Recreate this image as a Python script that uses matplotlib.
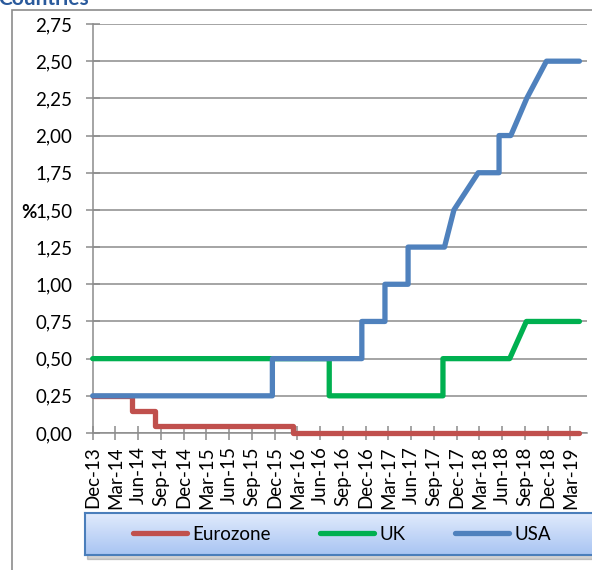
import matplotlib
matplotlib.use('Agg')
import matplotlib.pyplot as plt
import numpy as np
from matplotlib.patches import Rectangle

plt.rcParams['font.family'] = ['Lato', 'DejaVu Sans']

# x positions are months counted from Dec-13
tick_months = list(range(0, 64, 3))
tick_labels = ['Dec-13', 'Mar-14', 'Jun-14', 'Sep-14', 'Dec-14', 'Mar-15', 'Jun-15',
               'Sep-15', 'Dec-15', 'Mar-16', 'Jun-16', 'Sep-16', 'Dec-16', 'Mar-17',
               'Jun-17', 'Sep-17', 'Dec-17', 'Mar-18', 'Jun-18', 'Sep-18', 'Dec-18',
               'Mar-19']

# policy rate path, %
euro_x = [0, 5.15, 5.15, 8.2, 8.2, 26.45, 26.45, 64.2]
euro_y = [0.25, 0.25, 0.15, 0.15, 0.05, 0.05, 0.00, 0.00]

uk_x = [0, 31.2, 31.2, 46.2, 46.2, 55.0, 57.2, 64.2]
uk_y = [0.50, 0.50, 0.25, 0.25, 0.50, 0.50, 0.75, 0.75]

usa_x = [0, 23.7, 23.7, 35.5, 35.5, 38.55, 38.55, 41.6, 41.6, 46.4, 47.65,
         50.85, 53.6, 53.6, 55.15, 57.25, 59.85, 64.2]
usa_y = [0.25, 0.25, 0.50, 0.50, 0.75, 0.75, 1.00, 1.00, 1.25, 1.25, 1.50,
         1.75, 1.75, 2.00, 2.00, 2.25, 2.50, 2.50]

series = [('Eurozone', euro_x, euro_y, '#c0504d'),
          ('UK', uk_x, uk_y, '#00b050'),
          ('USA', usa_x, usa_y, '#4f81bd')]

W, H = 592, 570
fig = plt.figure(figsize=(W / 100, H / 100), dpi=100)

# outer chart frame (runs off the right and bottom edges)
fig.patches.append(Rectangle((12 / W, -0.1), 1.2, (H - 10) / H + 0.1,
                             transform=fig.transFigure, fill=False,
                             edgecolor='#8c8c8c', linewidth=1.2))
fig.text(-2 / W, 1 - 5 / H, 'Countries', fontsize=15, fontweight='bold',
         color='#2a5a9c', ha='left', va='baseline')

ax = fig.add_axes([92.7 / W, (H - 433) / H, (587 - 92.7) / W, 409 / H])
grey = '#8c8c8c'
for name, xs, ys, col in series:
    ax.plot(xs, ys, color=col, linewidth=3.8, label=name, zorder=3,
            clip_on=False, solid_capstyle='round', solid_joinstyle='round')

ax.set_xlim(0, 65.2)
ax.set_ylim(0, 2.75)
yt = np.arange(0, 2.76, 0.25)
ax.set_yticks(yt)
ax.set_yticklabels([f'{v:.2f}'.replace('.', ',') for v in yt])
ax.set_xticks(tick_months)
ax.set_xticklabels(tick_labels, rotation=90)
ax.yaxis.grid(True, color=grey, linewidth=1.1)
ax.set_axisbelow(True)
for s in ['top', 'right']:
    ax.spines[s].set_visible(False)
for s in ['left', 'bottom']:
    ax.spines[s].set_color(grey)
    ax.spines[s].set_linewidth(1.1)
    ax.spines[s].set_zorder(1)
ax.tick_params(axis='both', direction='inout', length=9.4, width=1.1,
               color=grey, labelsize=13.5)
ax.tick_params(axis='y', pad=10)
ax.tick_params(axis='x', pad=5)

fig.text(29 / W, 1 - 212 / H, '%', fontsize=13.5, fontweight='bold',
         ha='center', va='center')

# legend box with a vertical blue gradient and a soft shadow
box = [85 / W, (H - 555) / H, (600 - 85) / W, 42 / H]
fig.patches.append(Rectangle((box[0] + 2 / W, box[1] - 4 / H), box[2], box[3],
                             transform=fig.transFigure, color='#000000',
                             alpha=0.18, zorder=1))
lax = fig.add_axes(box, zorder=2)
grad = np.linspace(0, 1, 64).reshape(-1, 1)
top_c = np.array([0.88, 0.92, 0.99])
bot_c = np.array([0.66, 0.77, 0.95])
img = top_c + grad[..., None] * (bot_c - top_c)
lax.imshow(img, aspect='auto', extent=[0, 1, 0, 1])
lax.set_xticks([])
lax.set_yticks([])
for s in lax.spines.values():
    s.set_color('#4a7ebb')
    s.set_linewidth(1.5)

handles, labels = ax.get_legend_handles_labels()
leg = fig.legend(handles, labels, loc='center', ncol=3,
                 bbox_to_anchor=(342 / W, 1 - 534 / H), frameon=False,
                 fontsize=13.5, handlelength=2.9, handletextpad=0.3,
                 columnspacing=2.6)
leg.set_zorder(3)

fig.savefig('out.png', dpi=100)
